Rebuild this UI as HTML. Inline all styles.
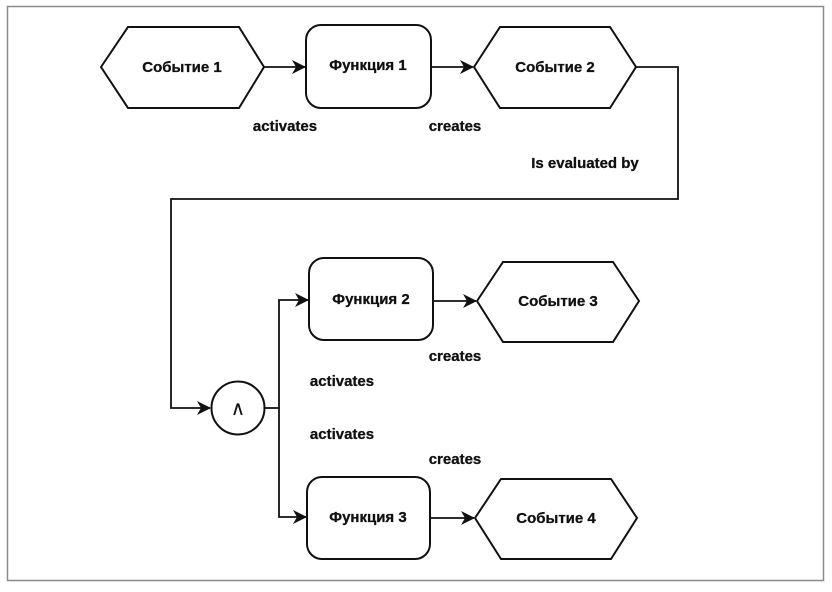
<!DOCTYPE html>
<html><head><meta charset="utf-8"><style>
html,body{margin:0;padding:0;background:#fff;width:832px;height:592px;overflow:hidden}
svg text{font-family:"Liberation Sans","DejaVu Sans",sans-serif;font-weight:bold;font-size:15px;fill:#111;stroke:#111;stroke-width:0.3}
</style></head><body>
<svg width="832" height="592" viewBox="0 0 832 592" xmlns="http://www.w3.org/2000/svg">
<defs><marker id="a" markerWidth="14" markerHeight="14" refX="13" refY="7" orient="auto" markerUnits="userSpaceOnUse"><path d="M0,0 L14,7 L0,14 L4,7 Z" fill="#111"/></marker></defs>
<rect x="7.5" y="6.5" width="816" height="574" fill="none" stroke="#8a8a8a" stroke-width="1.5"/>
<g fill="none" stroke="#111" stroke-width="2">
<polygon points="101,67 128,27 239,27 264,67 239,108 128,108"/>
<rect x="306" y="25" width="125" height="83" rx="15"/>
<polygon points="474,67 500,27 610,27 636,67 610,108 500,108"/>
<rect x="309" y="258" width="124" height="82" rx="15"/>
<polygon points="477,301 503,262 613,262 639,301 613,342 503,342"/>
<rect x="307" y="477" width="123" height="82" rx="15"/>
<polygon points="475,518 501,479 611,479 637,518 611,559 501,559"/>
<circle cx="238" cy="408" r="26.5"/>
</g>
<g fill="none" stroke="#111" stroke-width="1.8">
<line x1="264" y1="67" x2="305" y2="67" marker-end="url(#a)"/>
<line x1="431" y1="67" x2="473" y2="67" marker-end="url(#a)"/>
<polyline points="636,67 678,67 678,199 171,199 171,408 210,408" marker-end="url(#a)"/>
<line x1="265" y1="408" x2="279" y2="408"/>
<polyline points="279,408 279,300 308,300" marker-end="url(#a)"/>
<polyline points="279,408 279,517 306,517" marker-end="url(#a)"/>
<line x1="433" y1="301" x2="476" y2="301" marker-end="url(#a)"/>
<line x1="430" y1="518" x2="474" y2="518" marker-end="url(#a)"/>
</g>
<g text-anchor="middle">
<text x="182" y="72">Событие 1</text>
<text x="368" y="70">Функция 1</text>
<text x="555" y="72">Событие 2</text>
<text x="371" y="304">Функция 2</text>
<text x="558" y="306">Событие 3</text>
<text x="368" y="522">Функция 3</text>
<text x="556" y="523">Событие 4</text>
<text x="238" y="415" style="font-weight:normal;font-size:20px;stroke-width:0">∧</text>
<text x="285" y="131">activates</text>
<text x="455" y="131">creates</text>
<text x="585" y="168">Is evaluated by</text>
<text x="455" y="361">creates</text>
<text x="342" y="386">activates</text>
<text x="342" y="439">activates</text>
<text x="455" y="464">creates</text>
</g>
</svg>
</body></html>
